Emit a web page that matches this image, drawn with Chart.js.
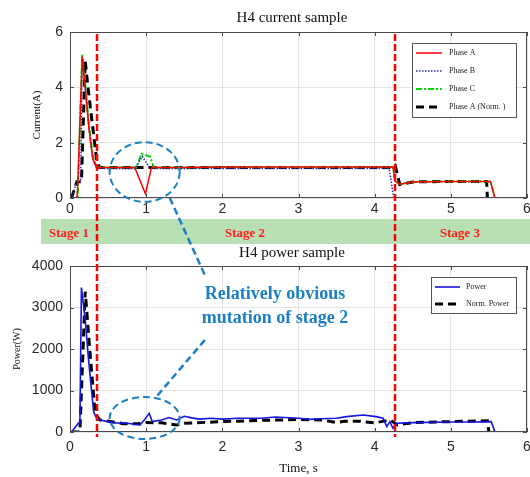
<!DOCTYPE html>
<html>
<head>
<meta charset="utf-8">
<script src="https://cdn.jsdelivr.net/npm/chart.js@4.4.1/dist/chart.umd.min.js"></script>
<style>
  body { margin: 0; background: #fff; }
  #wrap { position: relative; width: 530px; height: 477px; overflow: hidden; }
  #wrap canvas, #wrap div { position: absolute; }
  .title { left: 192px; width: 200px; text-align: center; font: 15px "Liberation Serif", "Times New Roman", serif; color: #111; line-height: 18px; }
  #band { left: 41px; top: 219px; width: 489px; height: 25px; background: #b9dfb5; }
  .stage { top: 224px; width: 80px; text-align: center; font: bold 13px "Liberation Serif", serif; color: #ff1f1f; line-height: 18px; }
  #note { left: 175px; top: 281px; width: 200px; text-align: center; font: bold 18px "Liberation Serif", serif; color: #1b7fc4; line-height: 24px; }
</style>
</head>
<body>
<div id="wrap">
  <canvas id="currentChart" width="530" height="219" style="left:0;top:0"></canvas>
  <div class="title" style="top:8px">H4 current sample</div>
  <div id="band"></div>
  <div class="stage" style="left:29px">Stage 1</div>
  <div class="stage" style="left:205px">Stage 2</div>
  <div class="stage" style="left:420px">Stage 3</div>
  <canvas id="powerChart" width="530" height="233" style="left:0;top:244px"></canvas>
  <div class="title" style="top:243px">H4 power sample</div>
  <canvas id="overlay" width="530" height="477" style="left:0;top:0"></canvas>
  <div id="note">Relatively obvious<br>mutation of stage 2</div>
</div>

<script>
// ---- data (time in s) ----
const xTicks = [0, 1, 2, 3, 4, 5, 6];
const currentTicks = [0, 2, 4, 6];
const powerTicks = [0, 1000, 2000, 3000, 4000];
const stageBounds = [0.36, 4.27]; // stage 1|2 and 2|3 borders

const tA = [0, 0.09, 0.1, 0.16, 0.2, 0.25, 0.3, 0.35, 0.5, 0.85, 0.99, 1.07, 1.5, 2, 2.5, 3, 3.5, 4, 4.24, 4.27, 4.33, 4.5, 5, 5.52, 5.58];
const phaseA = [0, 0, 0.3, 5.1, 4.0, 2.5, 1.4, 1.1, 1.1, 1.1, 0.15, 1.1, 1.1, 1.12, 1.12, 1.12, 1.12, 1.12, 1.12, 0.6, 0.5, 0.58, 0.6, 0.6, 0];

const tB = [0, 0.02, 0.09, 0.14, 0.16, 0.2, 0.25, 0.3, 0.35, 0.5, 0.85, 0.95, 1.05, 1.5, 2, 3, 4, 4.19, 4.25, 5, 5.64];
const phaseB = [0, 0, 0.59, 0.59, 5.1, 4.0, 2.5, 1.4, 1.08, 1.06, 1.06, 1.5, 1.07, 1.06, 1.07, 1.07, 1.07, 1.07, 0, 0, 0];

const tC = [0, 0.1, 0.16, 0.2, 0.25, 0.3, 0.35, 0.5, 0.87, 0.94, 1.05, 1.1, 1.5, 2, 3, 4, 4.24, 4.27, 4.33, 4.5, 5, 5.52, 5.58, 5.68];
const phaseC = [0, 0, 5.2, 4.1, 2.6, 1.5, 1.12, 1.1, 1.1, 1.6, 1.5, 1.1, 1.1, 1.12, 1.12, 1.12, 1.12, 0.6, 0.5, 0.58, 0.6, 0.6, 0, 0];

const tAN = [0.02, 0.09, 0.15, 0.2, 0.24, 0.31, 0.35, 0.39, 0.5, 1, 2, 3, 4, 4.25, 4.27, 4.33, 4.5, 5, 5.47, 5.48];
const phaseANorm = [0, 0.59, 0.59, 4.95, 3.9, 2.3, 1.37, 1.1, 1.1, 1.1, 1.1, 1.1, 1.1, 1.1, 1.16, 0.49, 0.58, 0.6, 0.6, 0];

const tP = [0, 0.02, 0.11, 0.13, 0.15, 0.2, 0.24, 0.31, 0.35, 0.4, 0.5, 0.6, 0.75, 0.92, 0.98, 1.04, 1.08, 1.2, 1.3, 1.4, 1.5, 1.6, 1.7, 1.85, 2.0, 2.2, 2.5, 2.7, 3.0, 3.15, 3.3, 3.5, 3.63, 3.85, 4.02, 4.11, 4.16, 4.2, 4.24, 4.29, 4.5, 5.0, 5.3, 5.53, 5.58, 5.64];
const power = [0, 0, 210, 200, 3480, 2700, 1815, 490, 330, 290, 250, 220, 210, 170, 300, 450, 250, 290, 350, 290, 380, 340, 310, 330, 310, 330, 330, 360, 330, 305, 320, 330, 370, 410, 370, 330, 130, 250, 90, 210, 225, 240, 240, 250, 0, 0];

const tNP = [0.02, 0.11, 0.13, 0.2, 0.26, 0.33, 0.39, 0.5, 0.7, 0.9, 1.0, 1.2, 1.4, 1.5, 2.0, 2.5, 3.0, 3.3, 3.5, 3.6, 3.8, 4.0, 4.2, 4.3, 4.5, 5.0, 5.48, 5.5];
const normPower = [0, 0, 0, 3380, 1975, 450, 290, 260, 200, 200, 230, 220, 170, 210, 250, 280, 300, 290, 230, 260, 260, 220, 290, 170, 225, 250, 270, 0];

// blue ellipse marks + connectors, in data units
const markT = 0.98, markCurrent = 0.94, markPower = 337;
const markHalfT = 0.46, markHalfCurrent = 1.08, markHalfPower = 506;

function pts(xs, ys) {
  return xs.map((x, i) => ({ x: x, y: ys[i] }));
}

// frame, inward ticks and MATLAB-like boxed legend
const framePlugin = {
  id: 'frame',
  afterDraw(chart, args, opts) {
    const ctx = chart.ctx;
    const a = chart.chartArea;
    const sx = chart.scales.x, sy = chart.scales.y;
    ctx.save();
    ctx.strokeStyle = '#4a4a4a';
    ctx.lineWidth = 1;
    ctx.setLineDash([]);
    ctx.strokeRect(a.left + 0.5, a.top + 0.5, a.width - 1, a.height - 1);
    ctx.beginPath();
    sx.ticks.forEach(t => {
      const p = Math.round(sx.getPixelForValue(t.value)) + 0.5;
      ctx.moveTo(p, a.bottom); ctx.lineTo(p, a.bottom - 4);
      ctx.moveTo(p, a.top); ctx.lineTo(p, a.top + 4);
    });
    sy.ticks.forEach(t => {
      const p = Math.round(sy.getPixelForValue(t.value)) + 0.5;
      ctx.moveTo(a.left, p); ctx.lineTo(a.left + 4, p);
      ctx.moveTo(a.right, p); ctx.lineTo(a.right - 4, p);
    });
    ctx.stroke();

    // legend
    const bx = a.right - 11 - opts.width, by = a.top + 11;
    const h = opts.rowH * chart.data.datasets.length + 2;
    ctx.fillStyle = '#fff';
    ctx.fillRect(bx, by, opts.width, h);
    ctx.strokeStyle = '#555';
    ctx.strokeRect(bx + 0.5, by + 0.5, opts.width, h);
    ctx.font = '8px "Liberation Serif", serif';
    ctx.textBaseline = 'middle';
    chart.data.datasets.forEach((ds, i) => {
      const y = by + opts.first + i * opts.rowH;
      ctx.strokeStyle = ds.borderColor;
      ctx.lineWidth = ds.borderWidth;
      ctx.setLineDash(ds.borderDash || []);
      ctx.beginPath();
      ctx.moveTo(bx + 4, y); ctx.lineTo(bx + 4 + opts.lineLen, y);
      ctx.stroke();
      ctx.fillStyle = '#222';
      ctx.fillText(ds.label, bx + opts.textX, y);
    });
    ctx.restore();
  }
};

const tickFont = { family: '"Liberation Sans", Arial, sans-serif', size: 14 };

function xAxis(height, withTitle) {
  return {
    type: 'linear', min: 0, max: 6,
    afterBuildTicks: s => { s.ticks = xTicks.map(v => ({ value: v })); },
    afterFit: s => { s.height = height; s.paddingLeft = 0; s.paddingRight = 0; },
    grid: { color: '#e4e4e4', drawTicks: false },
    border: { display: false },
    ticks: { color: '#2a2a2a', font: tickFont, padding: withTitle ? 7 : 3, maxRotation: 0, callback: v => String(v) },
    title: withTitle ? { display: true, text: 'Time, s', color: '#111', font: { family: '"Liberation Serif", serif', size: 13 }, padding: { top: 0, bottom: 1 } } : { display: false }
  };
}

function yAxis(max, tickVals, title, titleSize, titlePad) {
  return {
    min: 0, max: max,
    afterBuildTicks: s => { s.ticks = tickVals.map(v => ({ value: v })); },
    afterFit: s => { s.width = 70; },
    grid: { color: '#e4e4e4', drawTicks: false },
    border: { display: false },
    ticks: { color: '#2a2a2a', font: tickFont, padding: 7, callback: v => String(v) },
    title: { display: true, text: title, color: '#111', font: { family: '"Liberation Serif", serif', size: titleSize }, padding: { top: titlePad, bottom: 0 } }
  };
}

const currentChart = new Chart(document.getElementById('currentChart'), {
  type: 'line',
  data: {
    datasets: [
      { label: 'Phase A', data: pts(tA, phaseA), borderColor: '#ff0000', borderWidth: 1.5 },
      { label: 'Phase B', data: pts(tB, phaseB), borderColor: '#2a2aa8', borderWidth: 1.5, borderDash: [1.5, 1.5] },
      { label: 'Phase C', data: pts(tC, phaseC), borderColor: '#00d800', borderWidth: 2, borderDash: [6, 2, 2, 2] },
      { label: 'Phase A (Norm. )', data: pts(tAN, phaseANorm), borderColor: '#000000', borderWidth: 3, borderDash: [8, 5] }
    ]
  },
  options: {
    responsive: false,
    animation: false,
    devicePixelRatio: 1,
    layout: { padding: { left: 0, right: 3, top: 32, bottom: 0 } },
    elements: { point: { radius: 0 }, line: { tension: 0 } },
    scales: {
      x: xAxis(21, false),
      y: yAxis(6, currentTicks, 'Current(A)', 11, 31)
    },
    plugins: {
      legend: { display: false },
      tooltip: { enabled: false },
      frame: { width: 104, rowH: 18, first: 10, lineLen: 26, textX: 37 }
    }
  },
  plugins: [framePlugin]
});

const powerChart = new Chart(document.getElementById('powerChart'), {
  type: 'line',
  data: {
    datasets: [
      { label: 'Power', data: pts(tP, power), borderColor: '#1414e0', borderWidth: 1.6 },
      { label: 'Norm. Power', data: pts(tNP, normPower), borderColor: '#000000', borderWidth: 3, borderDash: [8, 5] }
    ]
  },
  options: {
    responsive: false,
    animation: false,
    devicePixelRatio: 1,
    layout: { padding: { left: 0, right: 3, top: 22, bottom: 0 } },
    elements: { point: { radius: 0 }, line: { tension: 0 } },
    scales: {
      x: xAxis(45, true),
      y: yAxis(4000, powerTicks, 'Power(W)', 10, 11)
    },
    plugins: {
      legend: { display: false },
      tooltip: { enabled: false },
      frame: { width: 85, rowH: 17, first: 10, lineLen: 25, textX: 35 }
    }
  },
  plugins: [framePlugin]
});

function drawOverlay() {
  const c = document.getElementById('overlay').getContext('2d');
  const off = 244;
  const x1 = currentChart.scales.x, y1 = currentChart.scales.y;
  const x2 = powerChart.scales.x, y2 = powerChart.scales.y;

  // stage borders
  c.strokeStyle = '#ff0000';
  c.lineWidth = 2.5;
  c.setLineDash([7, 3]);
  stageBounds.forEach(t => {
    const px = Math.round(x1.getPixelForValue(t));
    c.beginPath();
    c.moveTo(px, currentChart.chartArea.top + 2);
    c.lineTo(px, off + powerChart.chartArea.bottom + 5);
    c.stroke();
  });

  // mutation marks
  c.strokeStyle = '#1b7fc4';
  c.lineWidth = 2;
  c.setLineDash([7, 4]);
  const cx = x1.getPixelForValue(markT);
  const rx = x1.getPixelForValue(markT + markHalfT) - cx;
  c.beginPath();
  c.ellipse(cx, y1.getPixelForValue(markCurrent), rx,
    y1.getPixelForValue(0) - y1.getPixelForValue(markHalfCurrent), 0, 0, Math.PI * 2);
  c.stroke();
  c.beginPath();
  c.ellipse(x2.getPixelForValue(markT), off + y2.getPixelForValue(markPower), rx,
    y2.getPixelForValue(0) - y2.getPixelForValue(markHalfPower), 0, 0, Math.PI * 2);
  c.stroke();

  c.lineWidth = 2.5;
  c.beginPath();
  c.moveTo(x1.getPixelForValue(1.31), y1.getPixelForValue(0));
  c.lineTo(x2.getPixelForValue(1.77), off + y2.getPixelForValue(3783));
  c.stroke();
  c.beginPath();
  c.moveTo(x2.getPixelForValue(1.77), off + y2.getPixelForValue(2217));
  c.lineTo(x2.getPixelForValue(1.12), off + y2.getPixelForValue(819));
  c.stroke();
}

drawOverlay();
</script>
</body>
</html>
